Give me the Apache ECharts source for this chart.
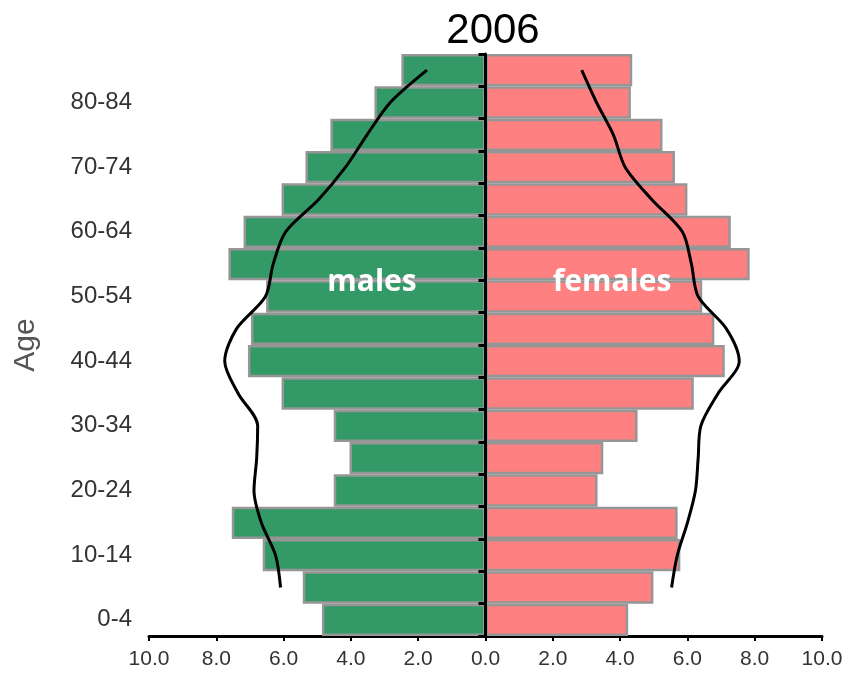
<!DOCTYPE html>
<html>
<head>
<meta charset="utf-8">
<script src="https://cdn.jsdelivr.net/npm/echarts@6/dist/echarts.min.js"></script>
<style>
  html, body { margin: 0; padding: 0; background: #fff; }
  #chart { width: 851px; height: 680px; }
</style>
</head>
<body>
<div id="chart"></div>
<script>
// age groups, bottom to top
const ageGroups = ['0-4', '5-9', '10-14', '15-19', '20-24', '25-29', '30-34', '35-39', '40-44',
  '45-49', '50-54', '55-59', '60-64', '65-69', '70-74', '75-79', '80-84', '85+']

// % of population, 2006 (bars)
const males2006 = [4.86, 5.43, 6.62, 7.54, 4.51, 4.04, 4.51, 6.06, 7.06, 6.97, 6.52, 7.64, 7.19, 6.06, 5.35, 4.61, 3.30, 2.50]
const females2006 = [4.24, 4.99, 5.79, 5.71, 3.33, 3.50, 4.52, 6.19, 7.11, 6.80, 6.44, 7.85, 7.29, 6.00, 5.63, 5.26, 4.32, 4.36]

// comparison outline (black lines)
const malesOutline = [null, 6.09, 6.24, 6.66, 6.88, 6.80, 6.77, 7.35, 7.75, 7.40, 6.54, 6.31, 5.94, 4.96, 4.16, 3.52, 2.83, 1.74]
const femalesOutline = [null, 5.53, 5.70, 6.00, 6.24, 6.32, 6.40, 6.91, 7.54, 7.16, 6.32, 6.12, 5.85, 4.94, 4.15, 3.80, 3.30, 2.86]

const xTicks = [-10, -8, -6, -4, -2, 0, 2, 4, 6, 8, 10]

const negate = arr => arr.map(v => (v == null ? null : -v))

const chart = echarts.init(document.getElementById('chart'))

const option = {
  animation: false,
  title: {
    text: '2006',
    left: 488,
    top: 5,
    textAlign: 'center',
    textStyle: { fontFamily: '"Liberation Sans", sans-serif', fontSize: 42, fontWeight: 'normal', color: '#000' }
  },
  grid: { left: 149, right: 29, top: 54, bottom: 44 },
  xAxis: {
    type: 'value',
    min: xTicks[0],
    max: xTicks[xTicks.length - 1],
    interval: 2,
    splitLine: { show: false },
    axisLine: { show: true, lineStyle: { color: '#000', width: 3 } },
    axisTick: { show: true, length: 5, lineStyle: { color: '#000', width: 2 } },
    axisLabel: {
      margin: 13,
      fontFamily: '"Liberation Sans", sans-serif',
      fontSize: 21,
      color: '#333',
      formatter: v => Math.abs(v).toFixed(1)
    }
  },
  yAxis: [
    {
      type: 'category',
      data: ageGroups,
      position: 'left',
      name: 'Age',
      nameLocation: 'middle',
      nameRotate: 90,
      nameGap: 108,
      nameTextStyle: { fontFamily: '"Liberation Sans", sans-serif', fontSize: 30, color: '#555' },
      axisLine: { show: false, onZero: false },
      axisTick: { show: false },
      axisLabel: { interval: 1, margin: 17, fontFamily: '"Liberation Sans", sans-serif', fontSize: 24, color: '#333' }
    },
    {
      // centre line with the small ticks (right-side axis moved onto zero, ticks inside = pointing left)
      type: 'category',
      data: ageGroups,
      position: 'right',
      z: 10,
      axisLine: { show: true, onZero: true, lineStyle: { color: '#000', width: 3 } },
      axisTick: { show: true, inside: true, length: 7, lineStyle: { color: '#000', width: 3 } },
      axisLabel: { show: false }
    }
  ],
  series: [
    {
      name: 'males',
      type: 'bar',
      data: negate(males2006),
      barCategoryGap: 0,
      barGap: '-100%',
      itemStyle: { color: '#339966', borderColor: '#969696', borderWidth: 2.5 }
    },
    {
      name: 'females',
      type: 'bar',
      data: females2006,
      barCategoryGap: 0,
      barGap: '-100%',
      itemStyle: { color: '#FF8080', borderColor: '#969696', borderWidth: 2.5 }
    },
    {
      type: 'line',
      data: negate(malesOutline),
      smooth: 0.3,
      symbol: 'none',
      z: 5,
      lineStyle: { color: '#000', width: 3 }
    },
    {
      type: 'line',
      data: femalesOutline,
      smooth: 0.3,
      symbol: 'none',
      z: 5,
      lineStyle: { color: '#000', width: 3 }
    }
  ],
  graphic: [
    {
      type: 'text', x: 372, y: 282, z: 20,
      style: { text: 'males', fill: '#fff', font: 'bold 30px "Open Sans", sans-serif', textAlign: 'center', textVerticalAlign: 'middle' }
    },
    {
      type: 'text', x: 612, y: 282, z: 20,
      style: { text: 'females', fill: '#fff', font: 'bold 30px "Open Sans", sans-serif', textAlign: 'center', textVerticalAlign: 'middle' }
    }
  ]
}

chart.setOption(option)
</script>
</body>
</html>
